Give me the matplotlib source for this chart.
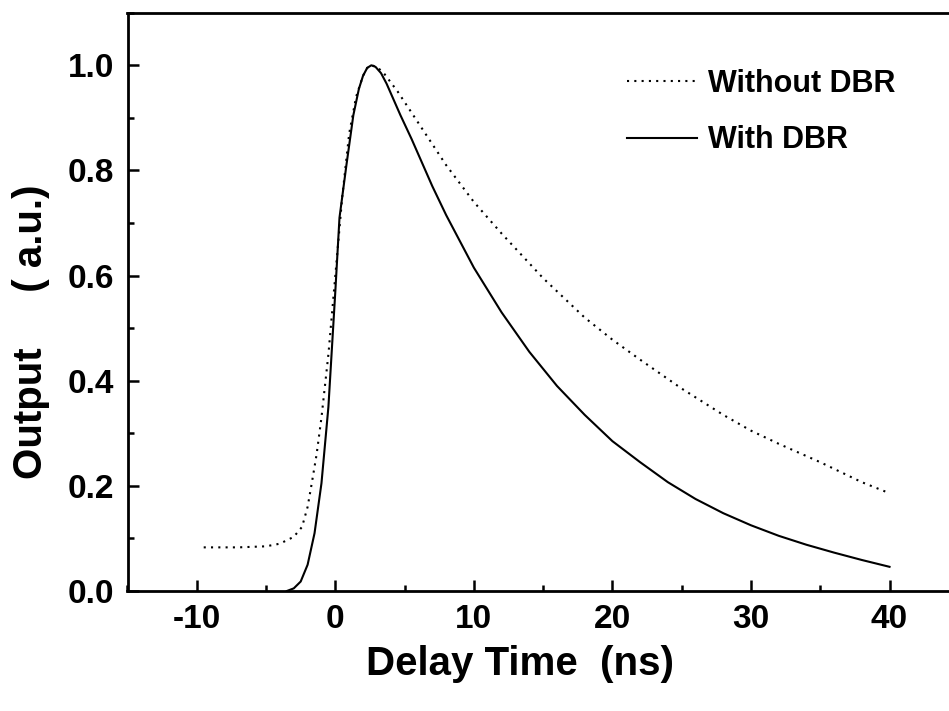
import matplotlib
matplotlib.use("Agg")
import matplotlib.pyplot as plt
from matplotlib.ticker import MultipleLocator, FormatStrFormatter

# With DBR (solid line)
with_t = [-3.5, -3.0, -2.5, -2.0, -1.5, -1.0, -0.5, 0.0, 0.3, 0.8, 1.3, 1.7, 2.0, 2.3, 2.6,
          2.9, 3.3, 3.7, 4.2, 4.7, 5.5, 6.3, 7.0, 8.0, 9.0, 10.0, 12.0, 14.0, 16.0, 18.0,
          20.0, 22.0, 24.0, 26.0, 28.0, 30.0, 32.0, 34.0, 36.0, 38.0, 40.0]
with_y = [0.0, 0.005, 0.018, 0.05, 0.11, 0.205, 0.35, 0.57, 0.71, 0.81, 0.905, 0.955, 0.98,
          0.995, 1.0, 0.997, 0.985, 0.965, 0.935, 0.905, 0.86, 0.812, 0.77, 0.715, 0.665,
          0.615, 0.53, 0.455, 0.39, 0.335, 0.285, 0.245, 0.207, 0.175, 0.148, 0.125, 0.105,
          0.088, 0.073, 0.059, 0.046]

# Without DBR (dotted line)
without_t = [-9.5, -7.0, -5.0, -4.0, -3.0, -2.4, -2.0, -1.7, -1.35, -1.0, -0.5, 0.0,
             0.5, 1.0, 1.5, 2.0, 2.3, 2.6, 3.0, 3.5, 4.5, 6.0, 8.0, 10.0, 12.0, 15.0, 18.0,
             20.0, 22.0, 25.0, 28.0, 30.0, 32.0, 35.0, 38.0, 40.0]
without_y = [0.083, 0.083, 0.085, 0.09, 0.103, 0.122, 0.16, 0.205, 0.26, 0.33, 0.45, 0.6,
             0.75, 0.87, 0.94, 0.98, 0.995, 1.0, 0.997, 0.985, 0.95, 0.89, 0.81, 0.74, 0.68,
             0.595, 0.52, 0.478, 0.44, 0.385, 0.335, 0.305, 0.28, 0.245, 0.207, 0.186]

plt.rcParams['font.family'] = ['Liberation Sans', 'DejaVu Sans']
plt.rcParams['axes.unicode_minus'] = False

fig = plt.figure(figsize=(9.49, 7.11), dpi=100)
ax = fig.add_axes([127.5 / 949, 120 / 711, 831.3 / 949, 578.3 / 711])

ax.plot(without_t, without_y, color='black', lw=1.5, linestyle=(0, (1, 2.5)),
        label='Without DBR')
ax.plot(with_t, with_y, color='black', lw=1.5, label='With DBR')

ax.set_xlim(-15, 45)
ax.set_ylim(0, 1.1)
ax.xaxis.set_major_locator(MultipleLocator(10))
ax.xaxis.set_minor_locator(MultipleLocator(5))
ax.yaxis.set_major_locator(MultipleLocator(0.2))
ax.yaxis.set_minor_locator(MultipleLocator(0.1))
ax.yaxis.set_major_formatter(FormatStrFormatter('%.1f'))

for s in ax.spines.values():
    s.set_linewidth(2)
ax.tick_params(which='both', direction='in', top=False, right=False, width=1.8)
ax.tick_params(which='major', length=8)
ax.tick_params(which='minor', length=4)
ax.tick_params(axis='x', which='major', pad=9, labelsize=24)
ax.tick_params(axis='y', which='major', pad=9.5, labelsize=24)
for lab in ax.get_xticklabels() + ax.get_yticklabels():
    lab.set_fontweight('bold')

ax.set_xlabel('Delay Time  (ns)', fontsize=29, fontweight='bold')
ax.set_ylabel('Output     ( a.u.)', fontsize=29, fontweight='bold')
ax.xaxis.set_label_coords((520 - 127.5) / 831.3, -(645 - 591) / 578.3)
ax.yaxis.set_label_coords(-(127.5 - 50) / 831.3, (591 - 332) / 578.3)

leg = ax.legend(loc='upper left', bbox_to_anchor=(627 / 949, 1 - 69 / 711),
                bbox_transform=fig.transFigure, frameon=False,
                prop={'size': 22, 'weight': 'bold'},
                handlelength=2.3, handletextpad=0.35, labelspacing=0.86,
                borderpad=0, borderaxespad=0)

fig.savefig('out.png', dpi=100)
